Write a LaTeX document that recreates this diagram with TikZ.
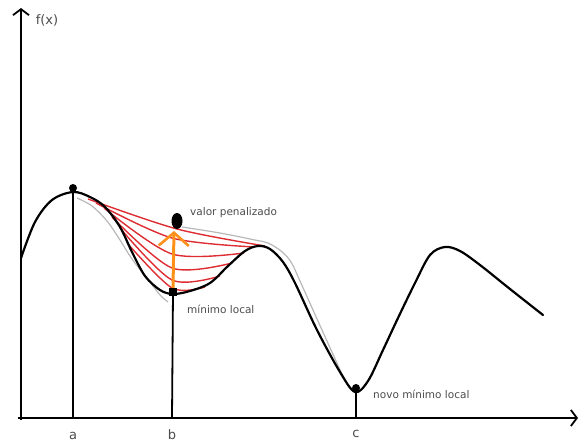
\documentclass[tikz,border=0pt]{standalone}
\usepackage{fontspec}
\setmainfont{DejaVu Sans}
\usetikzlibrary{arrows.meta,positioning,shapes.geometric}
\definecolor{pen}{RGB}{222,45,50}
\definecolor{arr}{RGB}{255,145,25}
\definecolor{txt}{RGB}{75,75,75}

\begin{document}
\begin{tikzpicture}[x=1pt,y=-1pt,
  crv/.style={line width=2.2pt,line cap=round,line join=round},
  aux/.style={line width=1.2pt,black!28},
  rl/.style={line width=1.4pt,pen},
  ax/.style={line width=1.8pt,-{Straight Barb[length=6pt,width=16pt,line width=1.8pt]}},
  dot/.style={circle,fill,inner sep=0pt,minimum size=8pt},
  lbl/.style={font=\fontsize{10.5}{12}\selectfont,text=txt,inner sep=0pt,anchor=west},
  tick/.style={font=\fontsize{13}{15}\selectfont,text=txt,inner sep=0pt}]
\useasboundingbox (0,0) rectangle (581,445);
% axes
\coordinate (o) at (18,418);
\coordinate (oy) at (21,420);
\coordinate (ytop) at (21,8);
\coordinate (xend) at (578,418);
\draw[ax] (oy) -- (ytop);
\draw[ax] (o) -- (xend);
\node[tick] (fx) at (47,20) {f(x)};
% penalized copies
\draw[aux] plot[smooth,tension=0.55] coordinates {(77,198) (92,206) (107,221) (120,240) (132,259) (150,282) (160,295) (168,302)};
\draw[aux] plot[smooth,tension=0.55] coordinates {(182,227) (220,233) (255,240) (268,243) (281,251) (291,262) (300,281) (322,330) (343,376) (350,387)};
% red chords
\draw[rl] plot[smooth] coordinates {(88,199) (177,229) (265,246)};
\draw[rl] plot[smooth] coordinates {(96,203) (172,238) (255,247)};
\draw[rl] plot[smooth] coordinates {(104,208) (172,254) (244,253)};
\draw[rl] plot[smooth] coordinates {(112,217) (172,268) (232,263)};
\draw[rl] plot[smooth] coordinates {(120,228) (172,280) (220,276)};
\draw[rl] plot[smooth] coordinates {(128,244) (172,288) (205,287)};
% function
\draw[crv] plot[smooth,tension=0.55] coordinates {(21,258) (35,222) (52,200) (73,192) (90,197) (105,207) (120,227) (132,252) (145,276) (160,290) (173,294) (190,291) (210,283) (228,266) (245,251) (258,246) (270,249) (283,262) (295,283) (317,330) (340,372) (355,392) (368,381) (383,350) (398,318) (415,283) (430,255) (445,247) (460,251) (480,265) (510,289) (543,315)};
% points
\node[dot] (pa) at (73,188) {};
\node[rectangle,fill,inner sep=0pt,minimum size=8pt] (pb) at (173,292) {};
\node[ellipse,fill,inner sep=0pt,minimum width=11pt,minimum height=16pt] (pv) at (177,221) {};
\node[dot] (pc) at (356,388) {};
\coordinate (xa) at (73,418);
\coordinate (xb) at (172,418);
\coordinate (xc) at (356,418);
\coordinate (tip) at (174,231);
\draw[line width=1.8pt] (pa) -- (xa);
\draw[line width=1.8pt] (pb.center) -- (xb);
\draw[line width=1.8pt] (pc) -- (xc);
\draw[arr,line width=3pt,-{Straight Barb[length=13pt,width=30pt,line width=2.6pt]}] (pb.north) -- (tip);
% labels
\node[lbl] (tv) at (190,213) {valor penalizado};
\node[lbl] (tm) at (187,309) {mínimo local};
\node[lbl] (tn) at (373,394) {novo mínimo local};
\node[tick] (ta) at (73,436) {a};
\node[tick] (tb) at (172,435) {b};
\node[tick] (tc) at (356,434) {c};
\end{tikzpicture}
\end{document}
